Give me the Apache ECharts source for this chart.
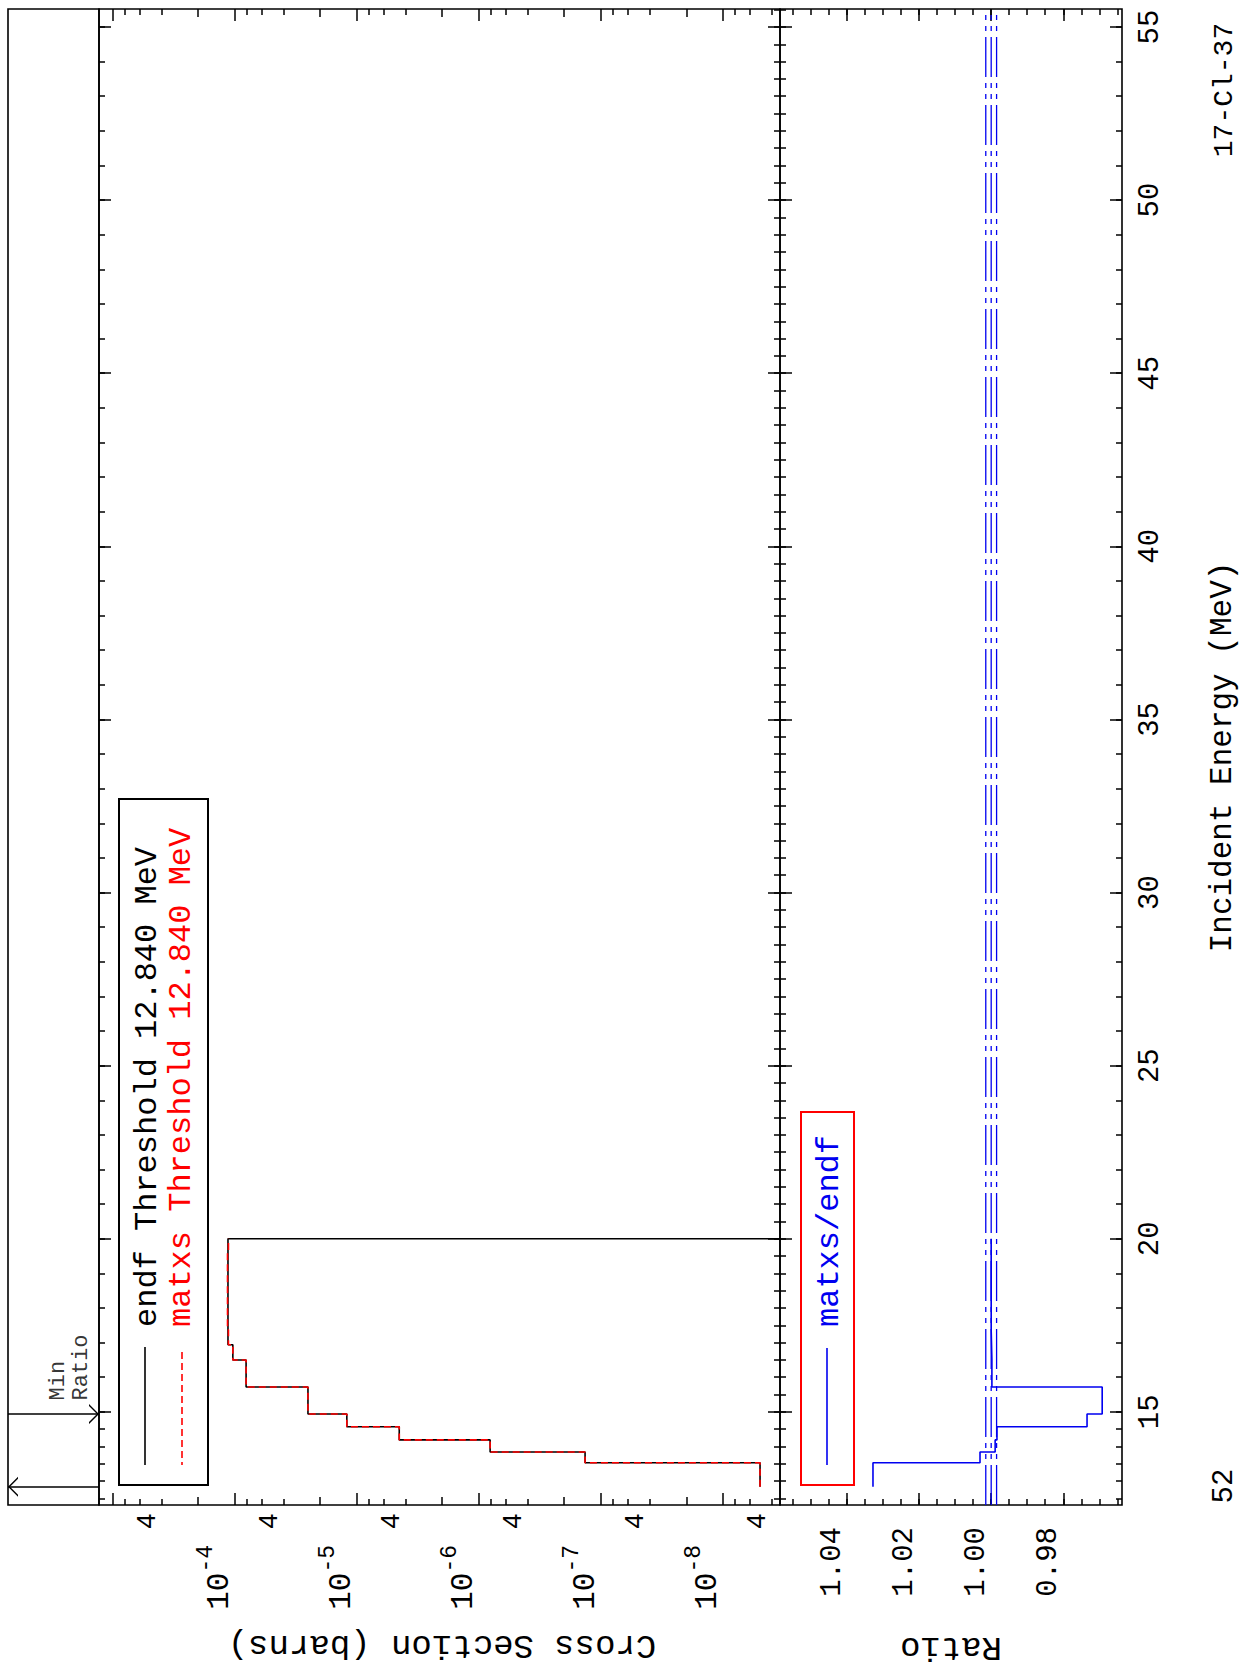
<!DOCTYPE html>
<html>
<head>
<meta charset="utf-8">
<title>17-Cl-37 MT52 cross section</title>
<script src="https://cdn.jsdelivr.net/npm/echarts@6.0.0/dist/echarts.min.js"></script>
<style>
html,body{margin:0;padding:0;background:#ffffff;}
#chart{width:1246px;height:1671px;}
</style>
</head>
<body>
<div id="chart"></div>
<script>
// ---------------- data ----------------
// energy group boundaries (MeV)
const groupBounds = [12.84, 13.53, 13.84, 14.19, 14.57, 14.94, 15.72, 16.50, 16.94, 17.37, 19.62, 20.00];
// group cross sections (barns)
const endfXS  = [4.97e-9, 1.35e-7, 8.1e-7, 4.5e-6, 1.21e-5, 2.52e-5, 8.1e-5, 1.04e-4, 1.14e-4, 1.14e-4, 1.14e-4];
const matxsXS = [4.97e-9, 1.35e-7, 8.1e-7, 4.5e-6, 1.21e-5, 2.52e-5, 8.1e-5, 1.04e-4, 1.13e-4, 1.15e-4, 1.13e-4];
// matxs / endf ratio per group
const ratioVals = [1.0328, 1.0031, 0.9989, 0.9984, 0.9734, 0.9692, 0.9998, 0.9999, 1.0000, 1.0000, 1.0000];
const ratioRefLines = [0.9985, 1.0000, 1.0015];
const thresholdEnergy = 12.84;
const minRatioEnergy = 14.94;

// axis ranges
const energyRange = [12.31, 55.52];
const xsRange = [3.41e-9, 1.30e-3];
const ratioRange = [0.9637, 1.0586];

// tick labels / tick positions
const energyMajorTicks = [15, 20, 25, 30, 35, 40, 45, 50, 55];
const energyOuterMinorTicks = [12.5, 13, 13.5, 14, 14.5, 15, 16, 17, 18, 19, 20, 21, 22, 23, 24, 25, 26, 27, 28, 29,
  30, 31, 32, 33, 34, 35, 36, 37, 38, 39, 40, 41, 42, 43, 44, 45, 46, 47, 48, 49, 50, 51, 52, 53, 54, 55];
const energyInnerMinorTicks = [12.5, 13, 13.5, 14, 14.5, 15, 15.5, 16, 16.5, 17, 17.5, 18, 18.5, 19, 19.5, 20, 20.5,
  21, 21.5, 22, 22.5, 23, 23.5, 24, 24.5, 25, 25.5, 26, 26.5, 27, 27.5, 28, 28.5, 29, 29.5, 30, 30.5, 31, 31.5,
  32, 32.5, 33, 33.5, 34, 34.5, 35, 35.5, 36, 36.5, 37, 37.5, 38, 38.5, 39, 39.5, 40, 40.5, 41, 41.5, 42, 42.5,
  43, 43.5, 44, 44.5, 45, 45.5, 46, 46.5, 47, 47.5, 48, 48.5, 49, 49.5, 50, 50.5, 51, 51.5, 52, 52.5, 53, 53.5,
  54, 54.5, 55, 55.5];
const xsDecadeTicks = [1e-8, 1e-7, 1e-6, 1e-5, 1e-4, 1e-3];
const xsDecadeLabels = [1e-8, 1e-7, 1e-6, 1e-5, 1e-4];
const xsTwoTicks = [2e-8, 2e-7, 2e-6, 2e-5, 2e-4];
const xsMinorTicks = [4e-9, 6e-9, 8e-9, 4e-8, 6e-8, 8e-8, 4e-7, 6e-7, 8e-7, 4e-6, 6e-6, 8e-6,
  4e-5, 6e-5, 8e-5, 4e-4, 6e-4, 8e-4];
const xsFourLabels = [4e-9, 4e-8, 4e-7, 4e-6, 4e-5, 4e-4];
const ratioMajorTicks = [0.98, 1.00, 1.02, 1.04];
const ratioMinorTicks = [0.965, 0.970, 0.975, 0.980, 0.985, 0.990, 0.995, 1.000, 1.005, 1.010, 1.015,
  1.020, 1.025, 1.030, 1.035, 1.040, 1.045, 1.050, 1.055];

// ---------------- chart ----------------
const MONO = "'Liberation Mono', 'DejaVu Sans Mono', monospace";
const lg = v => Math.log10(v);
const tickLine = { color: '#000', width: 1.5 };
const BLUE = '#0000f0';

function stepPoints(bounds, vals, fx) {
  const pts = [];
  for (let i = 0; i < vals.length; i++) {
    pts.push([fx(vals[i]), bounds[i]]);
    pts.push([fx(vals[i]), bounds[i + 1]]);
  }
  return pts;
}

function xAx(grid, pos, range, inverse, ticks, len, label) {
  return {
    gridIndex: grid, type: 'value', position: pos, min: range[0], max: range[1], inverse: inverse,
    axisLine: { show: false, onZero: false },
    splitLine: { show: false },
    axisTick: { show: true, inside: true, length: len, customValues: ticks, lineStyle: tickLine },
    axisLabel: label || { show: false },
    axisPointer: { show: false }
  };
}
function yAx(grid, pos, ticks, len, label) {
  return {
    gridIndex: grid, type: 'value', position: pos, min: energyRange[0], max: energyRange[1],
    axisLine: { show: false, onZero: false },
    splitLine: { show: false },
    axisTick: { show: true, inside: true, length: len, customValues: ticks, lineStyle: tickLine },
    axisLabel: label || { show: false },
    axisPointer: { show: false }
  };
}

const xsLogRange = [lg(xsRange[0]), lg(xsRange[1])];

const decadeLabel = {
  show: true, customValues: xsDecadeLabels.map(lg), rotate: 90, margin: 40,
  align: 'right', verticalAlign: 'bottom',
  formatter: v => '{b|10}{s|' + Math.round(v) + '}',
  rich: {
    b: { fontFamily: MONO, fontSize: 31, color: '#000', verticalAlign: 'bottom', lineHeight: 40 },
    s: { fontFamily: MONO, fontSize: 23, color: '#000', verticalAlign: 'top', lineHeight: 24 }
  }
};
const fourLabel = {
  show: true, customValues: xsFourLabels.map(lg), rotate: 90, margin: 8,
  align: 'right', verticalAlign: 'bottom',
  formatter: () => '4',
  fontFamily: MONO, fontSize: 27, color: '#000'
};
const ratioLabel = {
  show: true, customValues: ratioMajorTicks, rotate: 90, margin: 22,
  align: 'right', verticalAlign: 'bottom',
  formatter: v => v.toFixed(2),
  fontFamily: MONO, fontSize: 29, color: '#000'
};
const energyLabel = {
  show: true, customValues: energyMajorTicks, rotate: 90, margin: 14,
  align: 'center', verticalAlign: 'top',
  formatter: v => String(Math.round(v)),
  fontFamily: MONO, fontSize: 29, color: '#000'
};

const xAxes = [
  xAx(0, 'bottom', xsLogRange, true, xsDecadeTicks.map(lg), 12, decadeLabel),  // 0
  xAx(0, 'bottom', xsLogRange, true, xsTwoTicks.map(lg), 8, fourLabel),        // 1
  xAx(0, 'bottom', xsLogRange, true, xsMinorTicks.map(lg), 6),                 // 2
  xAx(0, 'top', xsLogRange, true, xsDecadeTicks.map(lg), 12),                  // 3
  xAx(0, 'top', xsLogRange, true, xsTwoTicks.map(lg), 8),                      // 4
  xAx(0, 'top', xsLogRange, true, xsMinorTicks.map(lg), 6),                    // 5
  xAx(1, 'bottom', ratioRange, true, ratioMajorTicks, 12, ratioLabel),         // 6
  xAx(1, 'bottom', ratioRange, true, ratioMinorTicks, 6),                      // 7
  xAx(1, 'top', ratioRange, true, ratioMajorTicks, 12),                        // 8
  xAx(1, 'top', ratioRange, true, ratioMinorTicks, 6),                         // 9
  { gridIndex: 2, type: 'value', min: 0, max: 1, show: false, axisLine: { onZero: false } } // 10
];
const yAxes = [
  yAx(0, 'left', energyMajorTicks, 12),        // 0
  yAx(0, 'left', energyOuterMinorTicks, 6),    // 1
  yAx(0, 'right', energyMajorTicks, 12),       // 2
  yAx(0, 'right', energyInnerMinorTicks, 6),   // 3
  yAx(1, 'left', energyMajorTicks, 12),        // 4
  yAx(1, 'left', energyInnerMinorTicks, 6),    // 5
  yAx(1, 'right', energyMajorTicks, 12, energyLabel), // 6
  yAx(1, 'right', energyOuterMinorTicks, 6),   // 7
  { gridIndex: 2, type: 'value', min: energyRange[0], max: energyRange[1], show: false, axisLine: { onZero: false } } // 8
];

const endfPts = stepPoints(groupBounds, endfXS, lg);
// above 20 MeV the evaluation ends: line drops to the bottom of the log scale
endfPts.push([xsLogRange[0], groupBounds[groupBounds.length - 1]]);
const matxsPts = stepPoints(groupBounds, matxsXS, lg);
const ratioPts = stepPoints(groupBounds, ratioVals, v => v);

const refSeries = ratioRefLines.map((r, i) => ({
  name: 'ref' + i, type: 'line', xAxisIndex: 6, yAxisIndex: 4,
  data: [[r, energyRange[0]], [r, energyRange[1]]],
  symbol: 'none', showSymbol: false, silent: true, z: 3,
  lineStyle: { color: BLUE, width: 1.3, type: [40, 6, 5, 6, 5, 6] }
}));

const chevron = 'path://M0,10 L10,0 L20,10 L18,10 L10,2 L2,10 Z';

const gridBase = { show: true, borderColor: '#000', borderWidth: 1.6, backgroundColor: 'rgba(0,0,0,0)', outerBoundsMode: 'none', containLabel: false };

const option = {
  animation: false,
  backgroundColor: '#ffffff',
  textStyle: { fontFamily: MONO },
  grid: [
    Object.assign({ left: 99, top: 9, width: 681, height: 1496 }, gridBase),
    Object.assign({ left: 780, top: 9, width: 342, height: 1496 }, gridBase),
    Object.assign({ left: 8, top: 9, width: 91, height: 1496 }, gridBase)
  ],
  xAxis: xAxes,
  yAxis: yAxes,
  series: [
    {
      name: 'endf', type: 'line', xAxisIndex: 0, yAxisIndex: 0, data: endfPts,
      symbol: 'none', showSymbol: false, clip: true, z: 3,
      lineStyle: { color: '#000000', width: 1.6 }
    },
    {
      name: 'matxs', type: 'line', xAxisIndex: 0, yAxisIndex: 0, data: matxsPts,
      symbol: 'none', showSymbol: false, clip: true, z: 4,
      lineStyle: { color: '#ff0000', width: 1.6, type: [7, 4] }
    },
    {
      name: 'matxs/endf', type: 'line', xAxisIndex: 6, yAxisIndex: 4, data: ratioPts,
      symbol: 'none', showSymbol: false, clip: true, z: 4,
      lineStyle: { color: BLUE, width: 1.6 }
    },
    ...refSeries,
    {
      name: 'markers', type: 'scatter', xAxisIndex: 10, yAxisIndex: 8,
      data: [[1, minRatioEnergy]], symbolSize: 1, itemStyle: { color: 'rgba(0,0,0,0)' },
      silent: true, z: 5,
      label: {
        show: true, formatter: 'Min\nRatio', rotate: 90, position: [0, 0],
        align: 'left', verticalAlign: 'bottom', padding: [0, 0, 6, 13],
        fontFamily: MONO, fontSize: 22, lineHeight: 23, color: '#000'
      },
      markLine: {
        silent: true, animation: false,
        label: { show: false },
        symbolSize: [20, 10],
        symbolOffset: [[0, 5], [0, 5]],
        itemStyle: { color: '#000' },
        lineStyle: { color: '#000', width: 1.5, type: 'solid' },
        data: [
          [{ coord: [0, minRatioEnergy], symbol: 'none' }, { coord: [1, minRatioEnergy], symbol: chevron }],
          [{ coord: [0, thresholdEnergy], symbol: chevron }, { coord: [1, thresholdEnergy], symbol: 'none' }]
        ]
      }
    }
  ],
  graphic: [
    // cross-section legend
    { type: 'rect', z: 10, shape: { x: 119, y: 799, width: 89, height: 686 }, style: { fill: 'none', stroke: '#000', lineWidth: 2 } },
    { type: 'line', z: 10, shape: { x1: 145, y1: 1347, x2: 145, y2: 1465 }, style: { stroke: '#000', lineWidth: 1.6 } },
    { type: 'line', z: 10, shape: { x1: 182, y1: 1352, x2: 182, y2: 1465 }, style: { stroke: '#ff0000', lineWidth: 1.6, lineDash: [7, 4] } },
    { type: 'text', z: 10, x: 147, y: 1327, rotation: Math.PI / 2,
      style: { text: 'endf Threshold 12.840 MeV', fill: '#000', font: '32px ' + MONO, align: 'left', verticalAlign: 'middle' } },
    { type: 'text', z: 10, x: 181, y: 1327, rotation: Math.PI / 2,
      style: { text: 'matxs Threshold 12.840 MeV', fill: '#ff0000', font: '32px ' + MONO, align: 'left', verticalAlign: 'middle' } },
    // ratio legend
    { type: 'rect', z: 10, shape: { x: 801, y: 1112, width: 53, height: 373 }, style: { fill: 'none', stroke: '#ff0000', lineWidth: 2 } },
    { type: 'line', z: 10, shape: { x1: 827, y1: 1348, x2: 827, y2: 1465 }, style: { stroke: BLUE, lineWidth: 1.6 } },
    { type: 'text', z: 10, x: 829, y: 1327, rotation: Math.PI / 2,
      style: { text: 'matxs/endf', fill: BLUE, font: '32px ' + MONO, align: 'left', verticalAlign: 'middle' } },
    // axis titles
    { type: 'text', z: 10, x: 442, y: 1645, rotation: Math.PI,
      style: { text: 'Cross Section (barns)', fill: '#000', font: '34px ' + MONO, align: 'center', verticalAlign: 'middle' } },
    { type: 'text', z: 10, x: 951, y: 1647, rotation: Math.PI,
      style: { text: 'Ratio', fill: '#000', font: '34px ' + MONO, align: 'center', verticalAlign: 'middle' } },
    { type: 'text', z: 10, x: 1222, y: 757, rotation: Math.PI / 2,
      style: { text: 'Incident Energy (MeV)', fill: '#000', font: '31px ' + MONO, align: 'center', verticalAlign: 'middle' } },
    { type: 'text', z: 10, x: 1224, y: 90, rotation: Math.PI / 2,
      style: { text: '17-Cl-37', fill: '#000', font: '28px ' + MONO, align: 'center', verticalAlign: 'middle' } },
    { type: 'text', z: 10, x: 1224, y: 1486, rotation: Math.PI / 2,
      style: { text: '52', fill: '#000', font: '29px ' + MONO, align: 'center', verticalAlign: 'middle' } }
  ]
};

const chart = echarts.init(document.getElementById('chart'), null, { renderer: 'svg', width: 1246, height: 1671 });
chart.setOption(option);
</script>
</body>
</html>
